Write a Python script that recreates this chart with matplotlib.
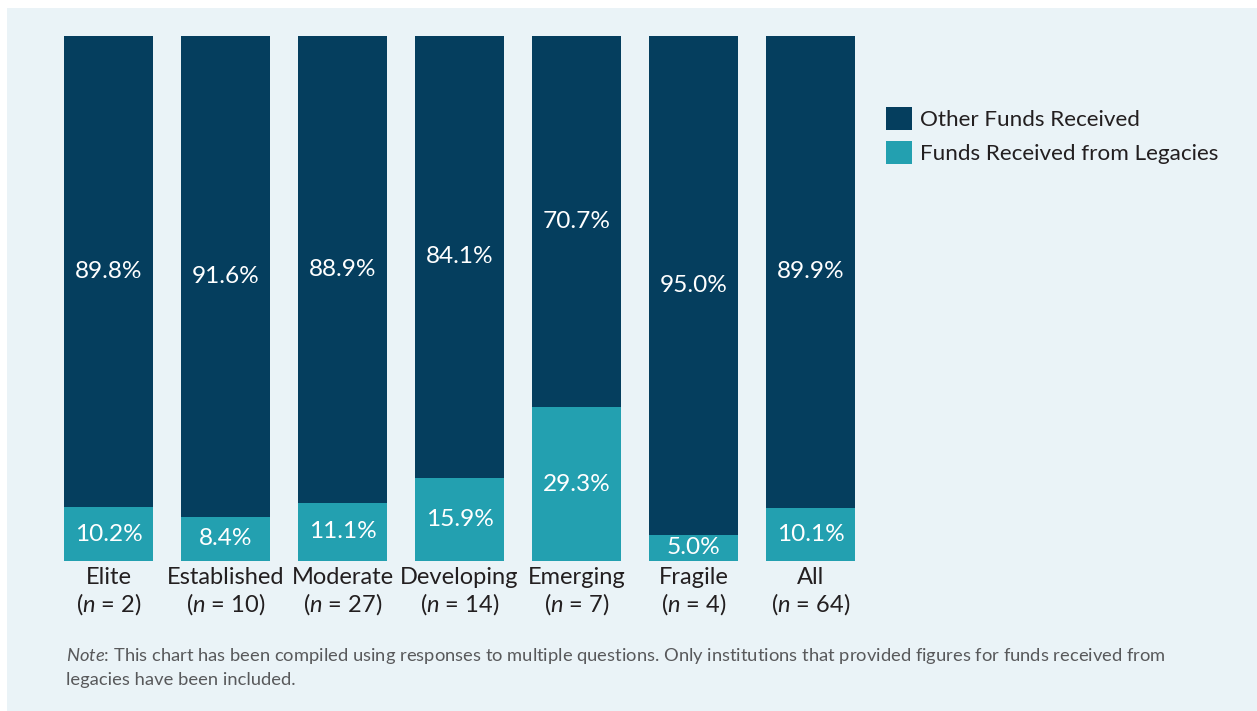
import matplotlib.pyplot as plt
from matplotlib.patches import Rectangle
import numpy as np

plt.rcParams['font.family'] = ['Lato', 'DejaVu Sans']
plt.rcParams['mathtext.fontset'] = 'custom'
plt.rcParams['mathtext.rm'] = 'Lato'
plt.rcParams['mathtext.it'] = 'Lato:italic'

categories = ['Elite', 'Established', 'Moderate', 'Developing', 'Emerging', 'Fragile', 'All']
counts = [2, 10, 27, 14, 7, 4, 64]
legacies = [10.2, 8.4, 11.1, 15.9, 29.3, 5.0, 10.1]
other = [89.8, 91.6, 88.9, 84.1, 70.7, 95.0, 89.9]

dark = '#053E5E'
teal = '#23A0B0'
panel = '#EAF3F7'
txt = '#231F20'

fig = plt.figure(figsize=(12.57, 7.11), dpi=100)
fig.patches.append(Rectangle((7 / 1257, 0), 1, 703 / 711, transform=fig.transFigure,
                             facecolor=panel, edgecolor='none', zorder=-10))

ax = fig.add_axes([64 / 1257, 150 / 711, 791 / 1257, 525 / 711])
ax.set_facecolor('none')
x = np.arange(len(categories))
w = 0.76
ax.bar(x, legacies, w, color=teal, label='Funds Received from Legacies')
ax.bar(x, other, w, bottom=legacies, color=dark, label='Other Funds Received')

for i in range(len(x)):
    ax.text(x[i], legacies[i] / 2, f'{legacies[i]:.1f}%', ha='center', va='center',
            color='white', fontsize=17.6)
    ax.text(x[i], legacies[i] + other[i] / 2, f'{other[i]:.1f}%', ha='center', va='center',
            color='white', fontsize=17.6)
    ax.text(x[i], -1.1, f'{categories[i]}\n($\\mathit{{n}}$ = {counts[i]})', ha='center', va='top',
            color=txt, fontsize=17, linespacing=1.15)

ax.set_xlim(-0.38, 6.38)
ax.set_ylim(0, 100)
ax.axis('off')

# legend, dark series first
h, l = ax.get_legend_handles_labels()
fig.legend(h[::-1], l[::-1], loc='upper left', bbox_to_anchor=(866 / 1257, 624 / 711),
           frameon=False, fontsize=16.2, handlelength=1.15, handleheight=1.15,
           handletextpad=0.35, labelspacing=0.5, labelcolor=txt)

fig.text(66 / 1257, 44 / 711,
         '$\\mathit{Note}$: This chart has been compiled using responses to multiple questions. '
         'Only institutions that provided figures for funds received from\n'
         'legacies have been included.',
         ha='left', va='center', color='#58595B', fontsize=13.2, linespacing=1.4)

fig.savefig('out.png', dpi=100)
